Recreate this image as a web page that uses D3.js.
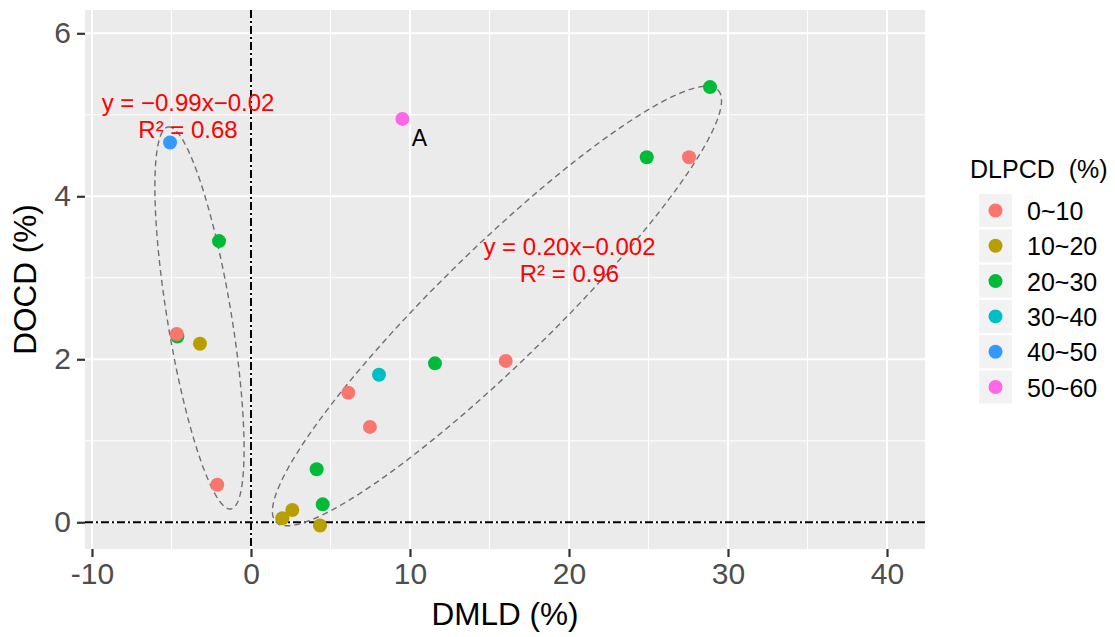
<!DOCTYPE html>
<html>
<head>
<meta charset="utf-8">
<script src="https://cdn.jsdelivr.net/npm/d3@7"></script>
<style>
  body { margin: 0; background: #fff; }
  text { font-family: "Liberation Sans", Arial, sans-serif; }
</style>
</head>
<body>
<svg width="1115" height="637"></svg>
<script>
// legend categories and colours
var categories = ['0~10', '10~20', '20~30', '30~40', '40~50', '50~60'];
var catColors = ['#F8766D', '#B79F00', '#00BA38', '#00BFC4', '#3399FF', '#FF66E8'];

// points
var dmld  = [-5.09, -2.01, 9.52, 28.87, 24.89, 27.55, -4.63, -4.67, -3.21, -2.12, 1.97, 2.60, 4.34, 4.51, 4.13, 6.12, 7.48, 8.05, 11.57, 16.02];
var docd  = [4.66, 3.45, 4.95, 5.34, 4.48, 4.48, 2.28, 2.31, 2.19, 0.46, 0.05, 0.15, -0.04, 0.22, 0.65, 1.59, 1.17, 1.81, 1.95, 1.98];
var dlpcd = ['40~50', '20~30', '50~60', '20~30', '20~30', '0~10', '20~30', '0~10', '10~20', '0~10', '10~20', '10~20', '10~20', '20~30', '20~30', '0~10', '0~10', '30~40', '20~30', '0~10'];

// ellipses (data units): centre, major half-axis vector, minor half-axis vector
var ellCenter = [[-3.24, 2.507], [15.47, 2.654]];
var ellMajor  = [[-1.981, 2.344], [13.90, 2.650]];
var ellMinor  = [[1.987, 0.064], [2.505, -0.501]];

// regression annotations
var eqLine1 = ['y = \u22120.99x\u22120.02', 'y = 0.20x\u22120.002'];
var eqLine2 = ['R\u00B2 = 0.68', 'R\u00B2 = 0.96'];
var eqX = [-3.96, 20.03];
var eqY = [5.047, 3.28];

var xTicks = [-10, 0, 10, 20, 30, 40];
var yTicks = [0, 2, 4, 6];
var xMinor = [-5, 5, 15, 25, 35];
var yMinor = [1, 3, 5];

var svg = d3.select('svg');
var margin = {top: 10, left: 85};
var width = 840, height = 539;

var x = d3.scaleLinear().domain([-10.44, 42.39]).range([0, width]);
var y = d3.scaleLinear().domain([-0.328, 6.286]).range([height, 0]);
var color = d3.scaleOrdinal().domain(categories).range(catColors);

var g = svg.append('g').attr('transform', `translate(${margin.left},${margin.top})`);

g.append('rect').attr('width', width).attr('height', height).attr('fill', '#EBEBEB');

// grid
g.selectAll('.xminor').data(xMinor).enter().append('line')
  .attr('x1', d => x(d)).attr('x2', d => x(d)).attr('y1', 0).attr('y2', height)
  .attr('stroke', '#fff').attr('stroke-width', 1);
g.selectAll('.yminor').data(yMinor).enter().append('line')
  .attr('x1', 0).attr('x2', width).attr('y1', d => y(d)).attr('y2', d => y(d))
  .attr('stroke', '#fff').attr('stroke-width', 1);
g.selectAll('.xmajor').data(xTicks).enter().append('line')
  .attr('x1', d => x(d)).attr('x2', d => x(d)).attr('y1', 0).attr('y2', height)
  .attr('stroke', '#fff').attr('stroke-width', 2);
g.selectAll('.ymajor').data(yTicks).enter().append('line')
  .attr('x1', 0).attr('x2', width).attr('y1', d => y(d)).attr('y2', d => y(d))
  .attr('stroke', '#fff').attr('stroke-width', 2);

// reference lines
g.append('line').attr('x1', x(0)).attr('x2', x(0)).attr('y1', 0).attr('y2', height)
  .attr('stroke', '#000').attr('stroke-width', 2).attr('stroke-dasharray', '8,3,2,3');
g.append('line').attr('x1', 0).attr('x2', width).attr('y1', y(0)).attr('y2', y(0))
  .attr('stroke', '#000').attr('stroke-width', 2).attr('stroke-dasharray', '8,3,2,3');

// ellipses
var line = d3.line().x(d => x(d[0])).y(d => y(d[1]));
ellCenter.forEach(function (c, i) {
  var pts = d3.range(0, 361, 2).map(function (deg) {
    var t = deg * Math.PI / 180;
    return [c[0] + ellMajor[i][0] * Math.cos(t) + ellMinor[i][0] * Math.sin(t),
            c[1] + ellMajor[i][1] * Math.cos(t) + ellMinor[i][1] * Math.sin(t)];
  });
  g.append('path').attr('d', line(pts)).attr('fill', 'none')
    .attr('stroke', '#707070').attr('stroke-width', 1.4).attr('stroke-dasharray', '6,4');
});

// points
g.selectAll('.pt').data(dmld).enter().append('circle')
  .attr('cx', (d, i) => x(d))
  .attr('cy', (d, i) => y(docd[i]))
  .attr('r', 7)
  .attr('fill', (d, i) => color(dlpcd[i]));

// label A next to the 50~60 point
var aIdx = dlpcd.indexOf('50~60');
g.append('text').attr('x', x(dmld[aIdx]) + 17).attr('y', y(docd[aIdx]) + 27)
  .attr('text-anchor', 'middle').attr('font-size', 23).attr('fill', '#000').text('A');

// equations
eqX.forEach(function (ex, i) {
  g.append('text').attr('x', x(ex)).attr('y', y(eqY[i]))
    .attr('text-anchor', 'middle').attr('font-size', 24).attr('fill', '#FF0000').text(eqLine1[i]);
  g.append('text').attr('x', x(ex)).attr('y', y(eqY[i]) + 27)
    .attr('text-anchor', 'middle').attr('font-size', 24).attr('fill', '#FF0000').text(eqLine2[i]);
});

// axes
var xAxis = g.append('g').attr('transform', `translate(0,${height})`)
  .call(d3.axisBottom(x).tickValues(xTicks).tickSize(8).tickPadding(6).tickFormat(d => String(d)));
var yAxis = g.append('g')
  .call(d3.axisLeft(y).tickValues(yTicks).tickSize(8).tickPadding(6).tickFormat(d => String(d)));
[xAxis, yAxis].forEach(function (a) {
  a.select('.domain').remove();
  a.selectAll('line').attr('stroke', '#333').attr('stroke-width', 2.2);
  a.selectAll('text').attr('font-size', 30).attr('fill', '#4D4D4D')
    .attr('font-family', '"Liberation Sans", Arial, sans-serif');
});

svg.append('text').attr('x', margin.left + width / 2).attr('y', 625)
  .attr('text-anchor', 'middle').attr('font-size', 31.5).attr('fill', '#000').text('DMLD (%)');
svg.append('text').attr('transform', `translate(36,${margin.top + height / 2}) rotate(-90)`)
  .attr('text-anchor', 'middle').attr('font-size', 31.5).attr('fill', '#000').text('DOCD (%)');

// legend
var legend = svg.append('g').attr('transform', 'translate(970,0)');
legend.append('text').attr('x', 0).attr('y', 178).attr('font-size', 25).attr('fill', '#000')
  .attr('xml:space', 'preserve').text('DLPCD  (%)');
var rows = legend.selectAll('.row').data(categories).enter().append('g')
  .attr('transform', (d, i) => `translate(9,${194 + i * 35.3})`);
rows.append('rect').attr('width', 33).attr('height', 33).attr('fill', '#F2F2F2');
rows.append('circle').attr('cx', 16.5).attr('cy', 16.5).attr('r', 7).attr('fill', d => color(d));
rows.append('text').attr('x', 48).attr('y', 26).attr('font-size', 25).attr('fill', '#000').text(d => d);
</script>
</body>
</html>
